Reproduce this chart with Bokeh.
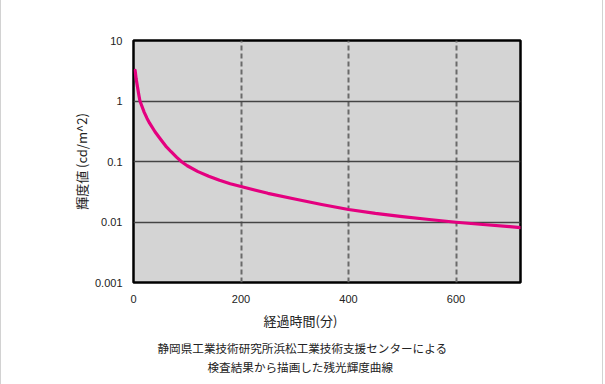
from bokeh.plotting import figure
from bokeh.models import Range1d, FixedTicker, Title
from bokeh.embed import file_html
from bokeh.resources import INLINE

# data
minutes = [3, 5, 8, 10, 12, 15, 20, 25, 30, 40, 50, 60, 70, 80, 90, 100,
           120, 140, 160, 180, 200, 250, 300, 350, 400, 450, 500, 550, 600,
           650, 700, 720]
luminance = [3.2, 2.3, 1.6, 1.25, 1.0, 0.85, 0.65, 0.52, 0.43, 0.31, 0.235,
             0.18, 0.145, 0.118, 0.098, 0.085, 0.068, 0.057, 0.049, 0.043,
             0.0386, 0.0298, 0.0240, 0.0195, 0.0161, 0.0139, 0.0123, 0.0110,
             0.0099, 0.0091, 0.0084, 0.0081]
x_ticks = [0, 200, 400, 600]
x_tick_labels = ["0", "200", "400", "600"]
y_ticks = [0.001, 0.01, 0.1, 1, 10]
y_tick_labels = ["0.001", "0.01", "0.1", "1", "10"]
x_dash_lines = [200, 400, 600]
y_solid_lines = [0.01, 0.1, 1]

y_title = "輝度値 (cd/m^2)"
x_title = "経過時間(分)"
caption1 = "静岡県工業技術研究所浜松工業技術支援センターによる"
caption2 = "検査結果から描画した残光輝度曲線"

LAT = "Liberation Sans"
CJK = "Noto Sans CJK JP"

p = figure(width=603, height=384, output_backend="svg", toolbar_location=None,
           x_range=Range1d(0, 720), y_range=Range1d(0.001, 10), y_axis_type="log",
           min_border_left=132, min_border_right=84, min_border_top=40,
           min_border_bottom=102,
           styles={"border-left": "1px solid #d2d2d2", "border-right": "1px solid #d2d2d2"})

p.background_fill_color = "#d4d4d4"
p.border_fill_color = "white"
p.outline_line_color = "black"
p.outline_line_width = 2.5

p.line(minutes, luminance, line_color="#e4007f", line_width=3.2,
       line_join="round", line_cap="round")

# grids
p.xgrid.ticker = FixedTicker(ticks=x_dash_lines)
p.xgrid.grid_line_color = "#6a6a6a"
p.xgrid.grid_line_width = 2
p.xgrid.grid_line_dash = "5 3"
p.ygrid.ticker = FixedTicker(ticks=y_solid_lines)
p.ygrid.grid_line_color = "#444444"
p.ygrid.grid_line_width = 1.5

# axes
for ax in (p.xaxis[0], p.yaxis[0]):
    ax.axis_line_color = None
    ax.major_tick_line_color = None
    ax.minor_tick_line_color = None
    ax.major_tick_out = 0
    ax.major_tick_in = 0
    ax.major_label_text_font = LAT
    ax.major_label_text_font_size = "11px"
    ax.major_label_text_color = "#222222"

p.xaxis[0].ticker = FixedTicker(ticks=x_ticks)
p.xaxis[0].major_label_overrides = dict(zip(x_ticks, x_tick_labels))
p.xaxis[0].major_label_standoff = 12

p.yaxis[0].ticker = FixedTicker(ticks=y_ticks)
p.yaxis[0].major_label_overrides = dict(zip(y_ticks, y_tick_labels))
p.yaxis[0].major_label_standoff = 11
p.yaxis[0].axis_label = y_title
p.yaxis[0].axis_label_text_font = CJK
p.yaxis[0].axis_label_text_font_size = "13px"
p.yaxis[0].axis_label_text_font_style = "normal"
p.yaxis[0].axis_label_text_color = "#222222"
p.yaxis[0].axis_label_standoff = 1

# x title and caption below
p.add_layout(Title(text=x_title, align="left", offset=130, standoff=6,
                   text_font=CJK, text_font_size="13px", text_font_style="normal",
                   text_color="#222222"), "below")
p.add_layout(Title(text=caption1, align="left", offset=24, standoff=10,
                   text_font=CJK, text_font_size="11.6px", text_font_style="normal",
                   text_color="#222222"), "below")
p.add_layout(Title(text=caption2, align="left", offset=74, standoff=-8,
                   text_font=CJK, text_font_size="11.6px", text_font_style="normal",
                   text_color="#222222"), "below")

open("out.html", "w").write(file_html(p, INLINE))
